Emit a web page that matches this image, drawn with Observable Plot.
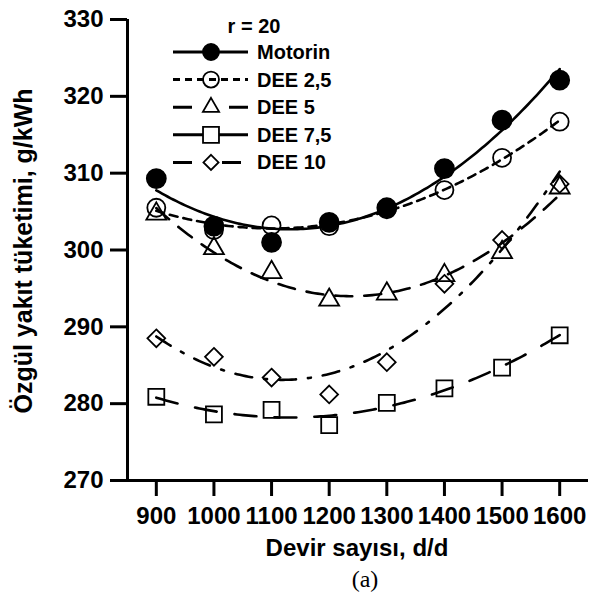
<!DOCTYPE html>
<html><head><meta charset="utf-8">
<script src="https://cdn.jsdelivr.net/npm/d3@7"></script>
<script src="https://cdn.jsdelivr.net/npm/@observablehq/plot@0.6"></script>
<style>
html,body{margin:0;padding:0;background:#fff;}
#chart{width:589px;height:597px;overflow:hidden;}
</style></head><body><div id="chart"></div>
<script>
// ---- data ----
const rpm = [900, 1000, 1100, 1200, 1300, 1400, 1500, 1600];
const motorin = [309.3, 303.1, 301.0, 303.6, 305.5, 310.6, 316.9, 322.1];
const dee25   = [305.5, 302.6, 303.2, 303.1, 305.3, 307.8, 312.0, 316.7];
const dee5    = [304.7, 300.2, 297.1, 293.5, 294.3, 296.7, 299.7, 308.1];
const dee75   = [280.9, 278.6, 279.2, 277.2, 280.1, 282.0, 284.7, 288.9];
const dee10   = [288.5, 286.1, 283.4, 281.2, 285.4, 295.6, 301.3, 308.6];
const seriesNames = ["Motorin", "DEE 2,5", "DEE 5", "DEE 7,5", "DEE 10"];
const seriesValues = [motorin, dee25, dee5, dee75, dee10];
const xTicks = [900, 1000, 1100, 1200, 1300, 1400, 1500, 1600];
const yTicks = [270, 280, 290, 300, 310, 320, 330];
const legendTitle = "r = 20";
const xTitle = "Devir sayısı, d/d";
const yTitle = "Özgül yakıt tüketimi, g/kWh";
const caption = "(a)";

// ---- styles ----
const styles = {
  "Motorin": {symbol: "circle",   r: 9.5, fill: "black", dash: null,          lgR: 8,   lgDash: null},
  "DEE 2,5": {symbol: "circle",   r: 9,   fill: "none",  dash: "8,6",         lgR: 8,   lgDash: "7,5"},
  "DEE 5":   {symbol: "triangle", r: 7.4, fill: "none",  dash: "17,12",       lgR: 6,   lgDash: "19,37"},
  "DEE 7,5": {symbol: "square",   r: 9,   fill: "none",  dash: "22,18",       lgR: 9,   lgDash: "30,16"},
  "DEE 10":  {symbol: "diamond2", r: 8,   fill: "none",  dash: "17,12,3,12",  lgR: 6.8, lgDash: "19,30", lgEnd: 241}
};

// ---- tables ----
const points = [];
seriesNames.forEach((s, i) => rpm.forEach((x, j) => points.push({series: s, x, y: seriesValues[i][j]})));

// quadratic least-squares trend line of each series (as in the source chart)
function quadFit(xs, ys) {
  const n = xs.length, mx = d3.mean(xs);
  const u = xs.map(x => (x - mx) / 100);
  let S = [0,0,0,0,0], T = [0,0,0];
  for (let i = 0; i < n; i++) {
    for (let k = 0; k < 5; k++) S[k] += Math.pow(u[i], k);
    for (let k = 0; k < 3; k++) T[k] += ys[i] * Math.pow(u[i], k);
  }
  const A = [[S[0],S[1],S[2]],[S[1],S[2],S[3]],[S[2],S[3],S[4]]];
  const det = m => m[0][0]*(m[1][1]*m[2][2]-m[1][2]*m[2][1]) - m[0][1]*(m[1][0]*m[2][2]-m[1][2]*m[2][0]) + m[0][2]*(m[1][0]*m[2][1]-m[1][1]*m[2][0]);
  const D = det(A);
  const coef = [0,1,2].map(c => det(A.map((row, r) => row.map((v, k) => k === c ? T[r] : v))) / D);
  return x => { const t = (x - mx) / 100; return coef[0] + coef[1]*t + coef[2]*t*t; };
}
const trend = [];
seriesNames.forEach((s, i) => {
  const f = quadFit(rpm, seriesValues[i]);
  const x0 = d3.min(rpm), x1 = d3.max(rpm);
  for (let k = 0; k <= 140; k++) { const x = x0 + (x1 - x0) * k / 140; trend.push({series: s, x, y: f(x)}); }
});

const font = "'Liberation Sans', Arial, sans-serif";

const marks = [];
seriesNames.forEach(s => {
  const st = styles[s];
  marks.push(Plot.line(trend.filter(d => d.series === s), {x: "x", y: "y", stroke: "black", strokeWidth: 2.6, strokeDasharray: st.dash || undefined}));
});
seriesNames.forEach(s => {
  const st = styles[s];
  marks.push(Plot.dot(points.filter(d => d.series === s), {x: "x", y: "y", symbol: st.symbol, r: st.r, fill: st.fill, stroke: "black", strokeWidth: 1.8}));
});
marks.push(
  Plot.ruleX([850], {stroke: "black", strokeWidth: 3}),
  Plot.ruleY([270], {stroke: "black", strokeWidth: 3}),
  Plot.axisY({ticks: yTicks, tickSize: 17, tickPadding: 7, strokeWidth: 3, fontSize: 24, fontWeight: "bold", label: null, tickFormat: d => String(d)}),
  Plot.axisX({ticks: xTicks, tickSize: 16, tickPadding: 10, strokeWidth: 3, fontSize: 24, fontWeight: "bold", label: null, tickFormat: d => String(d)})
);

const svg = Plot.plot({
  width: 589, height: 597,
  marginLeft: 127, marginRight: 1, marginTop: 19, marginBottom: 117,
  x: {domain: [850, 1650]},
  y: {domain: [270, 330]},
  style: {fontFamily: font, background: "white", color: "black", overflow: "visible"},
  marks
});
document.getElementById("chart").appendChild(svg);

// ---- titles, caption and legend ----
const g = d3.select(svg).append("g").attr("font-family", font).attr("fill", "black");
g.append("text").attr("transform", "translate(32,251) rotate(-90)").attr("text-anchor", "middle")
  .attr("font-size", 25).attr("font-weight", "bold").text(yTitle);
g.append("text").attr("x", 357).attr("y", 556).attr("text-anchor", "middle")
  .attr("font-size", 24).attr("font-weight", "bold").text(xTitle);
g.append("text").attr("x", 365).attr("y", 587).attr("text-anchor", "middle")
  .attr("font-family", "'Liberation Serif', 'Times New Roman', serif").attr("font-size", 24).text(caption);

const lg = d3.select(svg).append("g").attr("font-family", font);
lg.append("text").attr("x", 254).attr("y", 33).attr("text-anchor", "middle")
  .attr("font-size", 20).attr("font-weight", "bold").text(legendTitle);
const symMap = {circle: d3.symbolCircle, triangle: d3.symbolTriangle, square: d3.symbolSquare, diamond2: d3.symbolDiamond2};
seriesNames.forEach((s, i) => {
  const st = styles[s];
  const y = 52 + i * 27.6;
  lg.append("line").attr("x1", 173).attr("x2", st.lgEnd || 248).attr("y1", y).attr("y2", y)
    .attr("stroke", "black").attr("stroke-width", 3).attr("stroke-dasharray", st.lgDash);
  lg.append("path").attr("transform", `translate(211,${y})`)
    .attr("d", d3.symbol(symMap[st.symbol], Math.PI * st.lgR * st.lgR)())
    .attr("fill", st.fill).attr("stroke", "black").attr("stroke-width", 1.8);
  lg.append("text").attr("x", 257).attr("y", y + 7).attr("text-anchor", "start")
    .attr("font-size", 20).attr("font-weight", "bold").text(s);
});
</script></body></html>
